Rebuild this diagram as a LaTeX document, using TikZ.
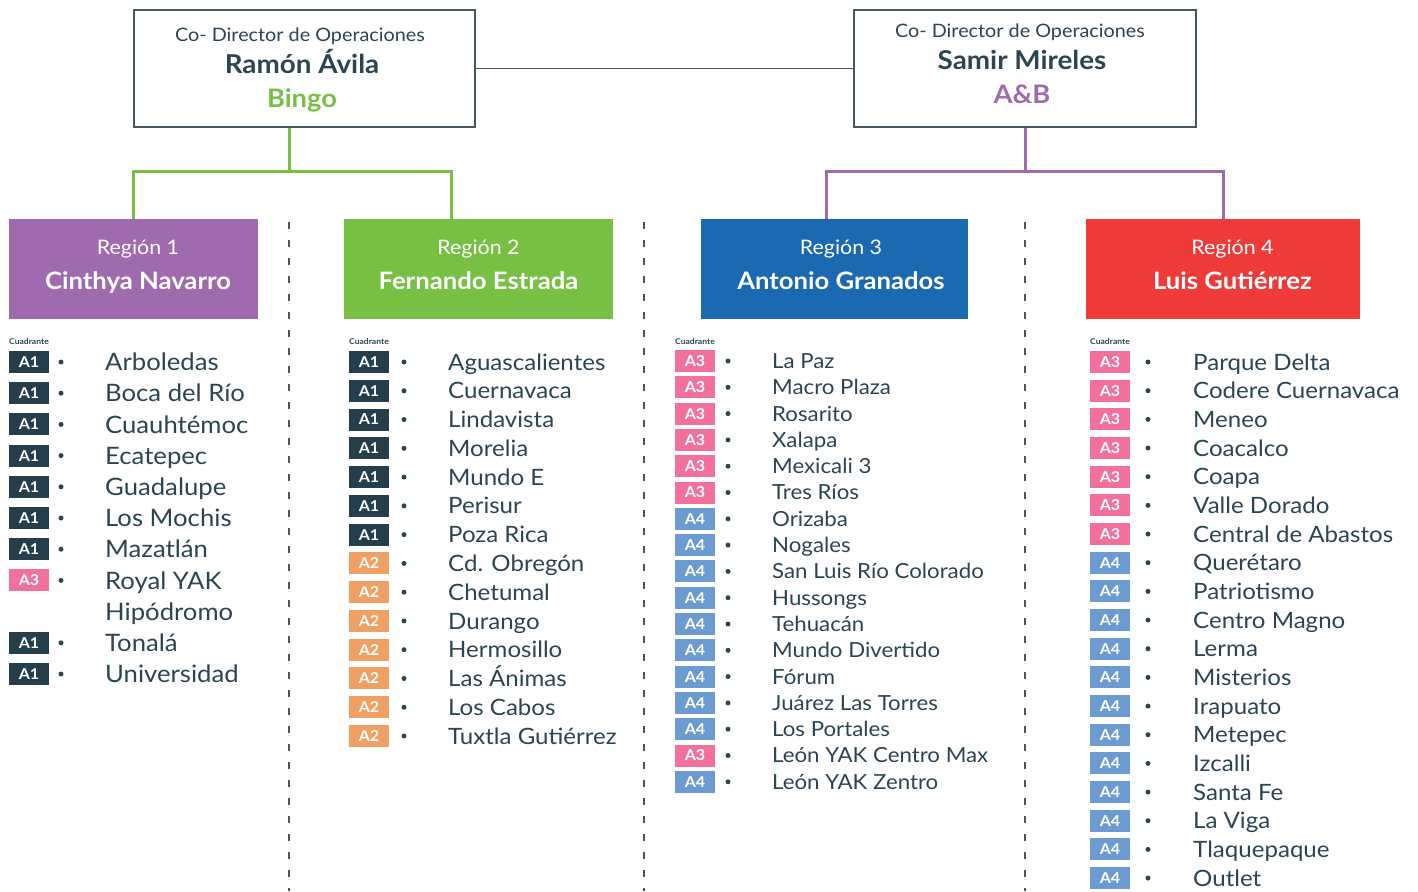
\documentclass[tikz,border=0pt]{standalone}
\usepackage{fontspec}
\setmainfont{Lato}[FakeStretch=1.07]
\usepackage{tikz}
\usetikzlibrary{calc}
\definecolor{ink}{HTML}{2B4552}
\definecolor{frame}{HTML}{45565F}
\definecolor{purp}{HTML}{A06AAE}
\definecolor{grn}{HTML}{77C044}
\definecolor{blu}{HTML}{1B69B1}
\definecolor{rojo}{HTML}{EE3B3A}
\definecolor{qA1}{HTML}{243E4C}
\definecolor{qA2}{HTML}{F0A062}
\definecolor{qA3}{HTML}{F2719B}
\definecolor{qA4}{HTML}{6C9BD2}
\tikzset{
  boss/.style={draw=frame, line width=1.3pt, minimum height=117pt, inner sep=0},
  region/.style={minimum height=100pt, inner sep=0},
  rtitle/.style={text=white, font=\fontsize{20}{20}\selectfont, anchor=base, inner sep=0},
  rname/.style={text=white, font=\bfseries\fontsize{24}{24}\selectfont, anchor=base, inner sep=0},
  badge/.style={minimum width=40pt, minimum height=22pt, inner sep=0, text=white, font=\bfseries\fontsize{15}{15}\selectfont},
  tree/.style={line width=3pt},
  link/.style={draw=frame, line width=1.2pt},
  sep/.style={draw=frame, line width=1.5pt, dash pattern=on 7pt off 11pt},
  item/.style={text=ink, anchor=base west, inner sep=0},
  dot/.style={fill=ink, circle, inner sep=0, minimum size=5pt},
  tag/.style={text=ink, font=\bfseries\fontsize{8}{8}\selectfont, anchor=west, inner sep=0},
}
% one row of a list: prefix, badge x, dot x, text x, y, cuadrante, name, size
\newcommand{\fila}[8]{%
  \node[badge, fill=q#6] (#1q) at (#2+20,#5) {#6};
  \node[dot] (#1d) at (#3,#5) {};
  \node[item, font=\fontsize{#8}{#8}\selectfont] (#1n) at (#4,#5+0.36*#8) {#7};
}

\begin{document}
\begin{tikzpicture}[x=1pt, y=-1pt]
\useasboundingbox[fill=white] (0,0) rectangle (1418,891);

% directors
\node[boss, minimum width=341pt] (ramon) at (304.5,68.5) {};
\node[text=ink, font=\fontsize{18.5}{18.5}\selectfont, anchor=base] (ramonT) at (300,41.5) {Co- Director de Operaciones};
\node[text=ink, font=\bfseries\fontsize{26}{26}\selectfont, anchor=base] (ramonN) at (302,74) {Ramón Ávila};
\node[text=grn, font=\bfseries\fontsize{25.5}{25.5}\selectfont, anchor=base] (ramonA) at (302,107) {Bingo};
\node[boss, minimum width=342pt] (samir) at (1025,68.5) {};
\node[text=ink, font=\fontsize{18.5}{18.5}\selectfont, anchor=base] (samirT) at (1020,37.5) {Co- Director de Operaciones};
\node[text=ink, font=\bfseries\fontsize{26}{26}\selectfont, anchor=base] (samirN) at (1022,70) {Samir Mireles};
\node[text=purp, font=\bfseries\fontsize{25.5}{25.5}\selectfont, anchor=base] (samirA) at (1022,103) {A\&B};
\draw[link] (ramon.east) -- (samir.west);

% regions
\node[region, fill=purp, minimum width=249pt] (reg1) at (133.5,269) {};
\node[region, fill=grn, minimum width=269pt] (reg2) at (478.5,269) {};
\node[region, fill=blu, minimum width=267pt] (reg3) at (834.5,269) {};
\node[region, fill=rojo, minimum width=274pt] (reg4) at (1223,269) {};
\foreach \r/\cx/\who in {1/138/Cinthya Navarro, 2/478.5/Fernando Estrada, 3/841/Antonio Granados, 4/1232.5/Luis Gutiérrez}{
  \node[rtitle] (reg\r t) at (\cx,254) {Región \r};
  \node[rname] (reg\r n) at (\cx,289.5) {\who};
}

% tree lines
\coordinate (gfork) at (289,171);
\coordinate (gdrop) at (451,0);
\draw[tree, grn] (ramon.south -| gfork) -- (gfork);
\draw[tree, grn] (reg1.north) |- (gfork) -| (reg2.north -| gdrop);
\coordinate (pfork) at (1025,171);
\coordinate (pdrop) at (826,0);
\draw[tree, purp] (samir.south) -- (pfork);
\draw[tree, purp] (reg3.north -| pdrop) |- (pfork) -| (reg4.north);

% separators
\foreach \x in {289,644,1025}
  \draw[sep] (\x,222) -- (\x,891);

% lists
\foreach \x in {9,349,675,1090}
  \node[tag] (tag\x) at (\x,342) {Cuadrante};

\foreach \q/\name [count=\i from 0] in {A1/Arboledas, A1/Boca del Río, A1/Cuauhtémoc,
    A1/Ecatepec, A1/Guadalupe, A1/Los Mochis, A1/Mazatlán, A3/Royal YAK}{
  \pgfmathsetmacro\yy{362+\i*31.2}
  \fila{a\i}{9}{61}{105}{\yy}{\q}{\name}{24}
}
\node[item, font=\fontsize{24}{24}\selectfont] (a8n) at (105,611.6+8.64) {Hipódromo};
\foreach \q/\name [count=\i from 9] in {A1/Tonalá, A1/Universidad}{
  \pgfmathsetmacro\yy{362+\i*31.2}
  \fila{a\i}{9}{61}{105}{\yy}{\q}{\name}{24}
}

\foreach \q/\name [count=\i from 0] in {A1/Aguascalientes, A1/Cuernavaca, A1/Lindavista,
    A1/Morelia, A1/Mundo E, A1/Perisur, A1/Poza Rica, A2/Cd. Obregón, A2/Chetumal,
    A2/Durango, A2/Hermosillo, A2/Las Ánimas, A2/Los Cabos, A2/Tuxtla Gutiérrez}{
  \pgfmathsetmacro\yy{362+\i*28.77}
  \fila{b\i}{349}{404}{448}{\yy}{\q}{\name}{22.5}
}

\foreach \q/\name [count=\i from 0] in {A3/La Paz, A3/Macro Plaza, A3/Rosarito, A3/Xalapa,
    A3/Mexicali 3, A3/Tres Ríos, A4/Orizaba, A4/Nogales, A4/San Luis Río Colorado,
    A4/Hussongs, A4/Tehuacán, A4/Mundo Divertido, A4/Fórum, A4/Juárez Las Torres,
    A4/Los Portales, A3/León YAK Centro Max, A4/León YAK Zentro}{
  \pgfmathsetmacro\yy{361+\i*26.3}
  \fila{c\i}{675}{728}{772}{\yy}{\q}{\name}{20.8}
}

\foreach \q/\name [count=\i from 0] in {A3/Parque Delta, A3/Codere Cuernavaca, A3/Meneo,
    A3/Coacalco, A3/Coapa, A3/Valle Dorado, A3/Central de Abastos, A4/Querétaro,
    A4/Patriotismo, A4/Centro Magno, A4/Lerma, A4/Misterios, A4/Irapuato, A4/Metepec,
    A4/Izcalli, A4/Santa Fe, A4/La Viga, A4/Tlaquepaque, A4/Outlet}{
  \pgfmathsetmacro\yy{362+\i*28.67}
  \fila{d\i}{1090}{1148}{1193}{\yy}{\q}{\name}{22.5}
}
\end{tikzpicture}
\end{document}
